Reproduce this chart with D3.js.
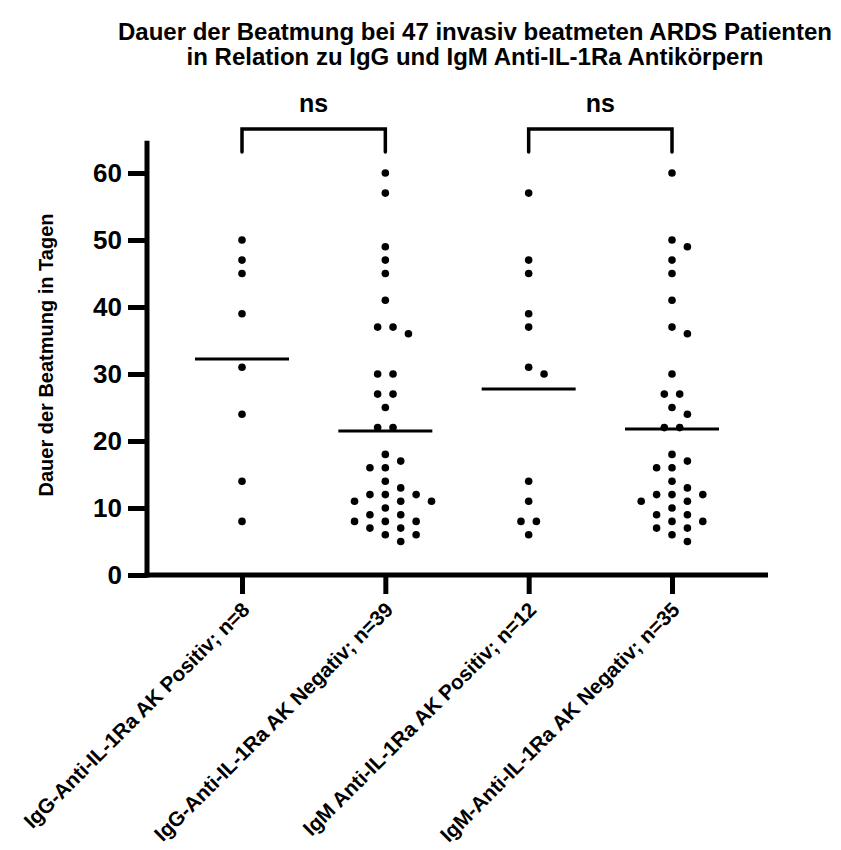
<!DOCTYPE html>
<html>
<head>
<meta charset="utf-8">
<script src="https://cdn.jsdelivr.net/npm/d3@7"></script>
<style>
  body { margin: 0; background: #fff; }
  svg { font-family: "Liberation Sans", Arial, Helvetica, sans-serif; font-weight: bold; }
</style>
</head>
<body>
<svg id="chart" width="841" height="850"></svg>
<script>
// data (days of ventilation)
const categories = [
  "IgG-Anti-IL-1Ra AK Positiv; n=8",
  "IgG-Anti-IL-1Ra AK Negativ; n=39",
  "IgM Anti-IL-1Ra AK Positiv; n=12",
  "IgM-Anti-IL-1Ra AK Negativ; n=35"
];
const iggPos = [50, 47, 45, 39, 31, 24, 14, 8];
const iggNeg = [60, 57, 49, 47, 45, 41, 37, 37, 36, 30, 30, 27, 27, 25, 22, 22, 18, 17, 16, 16,
  14, 13, 12, 12, 12, 11, 11, 11, 10, 9, 9, 8, 8, 8, 7, 7, 6, 6, 5];
const igmPos = [57, 47, 45, 39, 37, 31, 30, 14, 11, 8, 8, 6];
const igmNeg = [60, 50, 49, 47, 45, 41, 37, 36, 30, 27, 27, 25, 24, 22, 22, 18, 17, 16, 16,
  14, 13, 12, 12, 12, 11, 11, 10, 9, 9, 8, 8, 7, 7, 6, 5];
const groups = [iggPos, iggNeg, igmPos, igmNeg];
const yTicks = [0, 10, 20, 30, 40, 50, 60];
const comparisons = [[0, 1, "ns"], [2, 3, "ns"]];

const titleLines = [
  "Dauer der Beatmung bei 47 invasiv beatmeten ARDS Patienten",
  "in Relation zu IgG und IgM Anti-IL-1Ra Antikörpern"
];
const yTitle = "Dauer der Beatmung in Tagen";

const svg = d3.select("#chart");

const y = d3.scaleLinear().domain([0, 60]).range([575, 173]);
const x = d3.scalePoint().domain(categories).range([242, 672]);
const axisLeft = 147, axisRight = 768;

// title
svg.append("g")
  .selectAll("text")
  .data(titleLines)
  .enter()
  .append("text")
  .attr("x", 475)
  .attr("y", (d, i) => 40 + i * 25)
  .attr("text-anchor", "middle")
  .attr("font-size", 24)
  .text((d) => d);

// y axis
const yAxis = svg.append("g")
  .attr("transform", `translate(${axisLeft},0)`)
  .call(d3.axisLeft(y).tickValues(yTicks).tickSize(19).tickPadding(6));
yAxis.select(".domain").remove();
yAxis.selectAll(".tick line").attr("stroke", "#000").attr("stroke-width", 5);
yAxis.selectAll(".tick text")
  .attr("font-size", 26)
  .attr("font-family", "'Liberation Sans', Arial, sans-serif")
  .attr("font-weight", "bold")
  .attr("fill", "#000");
svg.append("line")
  .attr("x1", axisLeft).attr("x2", axisLeft)
  .attr("y1", y(0) + 2.5).attr("y2", y(64.8))
  .attr("stroke", "#000").attr("stroke-width", 5);

svg.append("text")
  .attr("transform", `translate(53,355) rotate(-90)`)
  .attr("text-anchor", "middle")
  .attr("font-size", 20)
  .text(yTitle);

// x axis
const xAxis = svg.append("g")
  .attr("transform", `translate(0,${y(0)})`)
  .call(d3.axisBottom(x).tickSize(19).tickFormat(""));
xAxis.select(".domain").remove();
xAxis.selectAll(".tick line").attr("stroke", "#000").attr("stroke-width", 5);
svg.append("line")
  .attr("x1", axisLeft - 2.5).attr("x2", axisRight)
  .attr("y1", y(0)).attr("y2", y(0))
  .attr("stroke", "#000").attr("stroke-width", 5);

svg.append("g")
  .selectAll("text")
  .data(categories)
  .enter()
  .append("text")
  .attr("transform", (d) => `translate(${x(d) + 9},${y(0) + 36}) rotate(-45)`)
  .attr("text-anchor", "end")
  .attr("font-size", 20.7)
  .text((d) => d);

// simple swarm: same values side by side, neighbours (1 day apart) never overlap
const step = 15.4;
const swarm = (vals) => {
  const placed = [];
  const free = (v, k) => placed.every((p) =>
    Math.abs(y(p.v) - y(v)) >= 10 || Math.abs(p.k - k) >= 2);
  const sorted = vals.slice().sort((a, b) => b - a);
  const byValue = d3.groups(sorted, (d) => d);
  byValue.forEach(([v, arr]) => {
    const n = arr.length;
    let done = false;
    for (const shift of [0, -1, 1]) {
      const ks = d3.range(n).map((i) => 2 * i - (n - 1) + shift);
      if (ks.every((k) => free(v, k))) {
        ks.forEach((k) => placed.push({ v, k }));
        done = true;
        break;
      }
    }
    if (!done) {
      arr.forEach(() => {
        for (let j = 0; j < 40; j++) {
          const k = j % 2 === 1 ? (j + 1) / 2 : -j / 2;
          if (free(v, k)) {
            placed.push({ v, k });
            break;
          }
        }
      });
    }
  });
  return placed;
};

groups.forEach((vals, gi) => {
  const cx = x(categories[gi]);
  const pts = swarm(vals);
  svg.append("g")
    .selectAll("circle")
    .data(pts)
    .enter()
    .append("circle")
    .attr("cx", (d) => cx + d.k * step / 2)
    .attr("cy", (d) => y(d.v))
    .attr("r", 3.8)
    .attr("fill", "#000");

  // mean line
  const m = d3.mean(vals);
  svg.append("line")
    .attr("x1", cx - 47).attr("x2", cx + 47)
    .attr("y1", y(m)).attr("y2", y(m))
    .attr("stroke", "#000").attr("stroke-width", 3);
});

// significance brackets
comparisons.forEach(([a, b, label]) => {
  const x1 = x(categories[a]), x2 = x(categories[b]);
  svg.append("path")
    .attr("d", `M${x1},152 V129 H${x2} V152`)
    .attr("fill", "none")
    .attr("stroke", "#000")
    .attr("stroke-width", 3.5)
    .attr("stroke-linecap", "round");
  svg.append("text")
    .attr("x", (x1 + x2) / 2)
    .attr("y", 112)
    .attr("text-anchor", "middle")
    .attr("font-size", 25)
    .text(label);
});
</script>
</body>
</html>
